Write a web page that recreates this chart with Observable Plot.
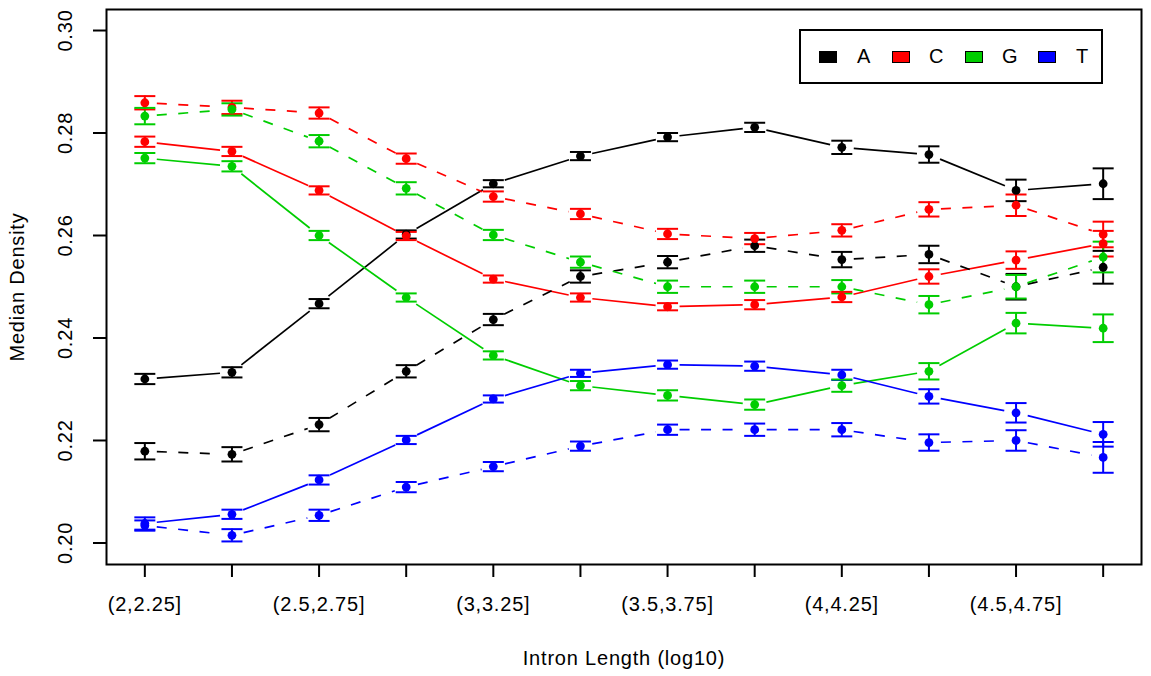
<!DOCTYPE html>
<html><head><meta charset="utf-8">
<script src="https://cdn.jsdelivr.net/npm/d3@7"></script>
<script src="https://cdn.jsdelivr.net/npm/@observablehq/plot@0.6"></script>
<style>
body{margin:0;background:#fff;font-family:"Liberation Sans",Arial,sans-serif;}
#wrap{position:relative;width:1151px;height:676px;}
#wrap svg text{letter-spacing:0.8px;}
.box{position:absolute;left:799px;top:29px;width:304px;height:55px;border:2px solid #000;box-sizing:border-box;background:#fff;}
.sw{position:absolute;top:51px;width:18px;height:12px;border:1px solid #000;box-sizing:border-box;}
.lt{position:absolute;top:46px;font-size:20px;line-height:20px;color:#000;letter-spacing:0.8px;}
</style></head><body><div id="wrap"></div>
<script>
// Categories (x bins)
const bins = ["(2,2.25]","(2.25,2.5]","(2.5,2.75]","(2.75,3]","(3,3.25]","(3.25,3.5]","(3.5,3.75]","(3.75,4]","(4,4.25]","(4.25,4.5]","(4.5,4.75]","(4.75,5]"];
const bases = ["A","C","G","T"];
const baseColors = ["#000000","#FF0000","#00CD00","#0000FF"];
const yTicks = [0.20,0.22,0.24,0.26,0.28,0.30];

// Series values (median density) and error half-widths; solid and dashed sets
const A_solid      = [0.2320,0.2333,0.2467,0.2602,0.2701,0.2755,0.2792,0.2811,0.2772,0.2758,0.2688,0.2701];
const A_solid_err  = [0.0010,0.0010,0.0009,0.0008,0.0007,0.0008,0.0008,0.0009,0.0013,0.0016,0.0021,0.0030];
const A_dashed     = [0.2179,0.2173,0.2231,0.2335,0.2436,0.2520,0.2548,0.2580,0.2553,0.2563,0.2500,0.2538];
const A_dashed_err = [0.0016,0.0014,0.0013,0.0012,0.0011,0.0012,0.0012,0.0012,0.0015,0.0017,0.0025,0.0032];
const C_solid      = [0.2783,0.2764,0.2688,0.2599,0.2515,0.2479,0.2461,0.2465,0.2480,0.2520,0.2552,0.2584];
const C_solid_err  = [0.0010,0.0009,0.0008,0.0008,0.0007,0.0008,0.0007,0.0009,0.0010,0.0014,0.0017,0.0025];
const C_dashed     = [0.2859,0.2850,0.2839,0.2750,0.2676,0.2642,0.2603,0.2594,0.2610,0.2651,0.2659,0.2602];
const C_dashed_err = [0.0013,0.0013,0.0011,0.0010,0.0010,0.0010,0.0010,0.0011,0.0012,0.0014,0.0021,0.0025];
const G_solid      = [0.2751,0.2735,0.2600,0.2479,0.2366,0.2307,0.2288,0.2270,0.2307,0.2335,0.2429,0.2419];
const G_solid_err  = [0.0010,0.0010,0.0009,0.0008,0.0008,0.0009,0.0010,0.0010,0.0012,0.0016,0.0020,0.0027];
const G_dashed     = [0.2833,0.2846,0.2784,0.2692,0.2601,0.2548,0.2500,0.2500,0.2500,0.2465,0.2500,0.2558];
const G_dashed_err = [0.0016,0.0012,0.0012,0.0012,0.0010,0.0011,0.0012,0.0012,0.0013,0.0017,0.0023,0.0030];
const T_solid      = [0.2038,0.2056,0.2123,0.2201,0.2281,0.2331,0.2348,0.2345,0.2328,0.2286,0.2254,0.2212];
const T_solid_err  = [0.0012,0.0009,0.0009,0.0008,0.0007,0.0007,0.0008,0.0009,0.0010,0.0014,0.0019,0.0024];
const T_dashed     = [0.2034,0.2015,0.2054,0.2109,0.2149,0.2189,0.2221,0.2221,0.2221,0.2196,0.2200,0.2167];
const T_dashed_err = [0.0010,0.0012,0.0011,0.0010,0.0009,0.0009,0.0010,0.0012,0.0013,0.0016,0.0020,0.0030];

const series = [
  {base:"A", style:"solid",  v:A_solid,  e:A_solid_err},
  {base:"A", style:"dashed", v:A_dashed, e:A_dashed_err},
  {base:"C", style:"solid",  v:C_solid,  e:C_solid_err},
  {base:"C", style:"dashed", v:C_dashed, e:C_dashed_err},
  {base:"G", style:"solid",  v:G_solid,  e:G_solid_err},
  {base:"G", style:"dashed", v:G_dashed, e:G_dashed_err},
  {base:"T", style:"solid",  v:T_solid,  e:T_solid_err},
  {base:"T", style:"dashed", v:T_dashed, e:T_dashed_err}
];
const rows = series.flatMap(s => s.v.map((val,i) => ({base:s.base, style:s.style, x:i+1, y:val, lo:val-s.e[i], hi:val+s.e[i]})));
const segs = series.flatMap(s => d3.pairs(s.v.map((val,i)=>[i+1,val])).map(([a,b]) => ({base:s.base, style:s.style, x1:a[0], y1:a[1], x2:b[0], y2:b[1]})));

const cap = {draw(ctx, size){ const w = Math.sqrt(size/Math.PI); ctx.moveTo(-w,0); ctx.lineTo(w,0); }};
const font = "Liberation Sans, Arial, sans-serif";

const plot = Plot.plot({
  width: 1151, height: 676,
  marginLeft: 106, marginRight: 10, marginTop: 9, marginBottom: 112,
  style: {fontFamily: font, fontSize: "20px", color: "#000", background: "#fff"},
  x: {type: "linear", domain: [0.56, 12.44]},
  y: {domain: [0.1958, 0.3041]},
  color: {domain: bases, range: baseColors},
  marks: [
    Plot.axisX({ticks: d3.range(1,13), tickSize: 13, tickPadding: 19, strokeWidth: 2, fontSize: 20,
      tickFormat: i => (i % 2 === 1 ? bins[i-1] : ""), label: null}),
    Plot.axisY({ticks: yTicks, tickSize: 13, strokeWidth: 2, tickFormat: () => "", label: null}),
    Plot.text(yTicks, {y: d => d, text: d => d.toFixed(2), frameAnchor: "left", textAnchor: "middle", rotate: -90, dx: -41, fontSize: 20}),
    Plot.text(["Median Density"], {text: d => d, frameAnchor: "left", textAnchor: "middle", rotate: -90, dx: -89, fontSize: 20}),
    Plot.text(["Intron Length (log10)"], {text: d => d, frameAnchor: "bottom", textAnchor: "middle", lineAnchor: "middle", dy: 94, fontSize: 20}),
    Plot.frame({stroke: "#000", strokeWidth: 2}),
    Plot.arrow(segs.filter(d => d.style === "solid"), {x1:"x1", y1:"y1", x2:"x2", y2:"y2", stroke:"base", inset: 12, headLength: 0, strokeWidth: 1.7, strokeLinecap: "butt"}),
    Plot.arrow(segs.filter(d => d.style === "dashed"), {x1:"x1", y1:"y1", x2:"x2", y2:"y2", stroke:"base", inset: 12, headLength: 0, strokeWidth: 1.7, strokeLinecap: "butt", strokeDasharray: "10,11.5"}),
    Plot.ruleX(rows, {x:"x", y1:"lo", y2:"hi", stroke:"base", strokeWidth: 2}),
    Plot.dot(rows, {x:"x", y:"lo", symbol: cap, r: 10.5, stroke:"base", strokeWidth: 2, fill: "none"}),
    Plot.dot(rows, {x:"x", y:"hi", symbol: cap, r: 10.5, stroke:"base", strokeWidth: 2, fill: "none"}),
    Plot.dot(rows, {x:"x", y:"y", fill:"base", r: 4.4})
  ]
});
const wrap = document.getElementById("wrap");
wrap.appendChild(plot);

// Legend
const box = document.createElement("div"); box.className = "box"; wrap.appendChild(box);
const swLeft = [819, 892, 965, 1038];
const txLeft = [857, 929, 1002, 1076];
bases.forEach((b, i) => {
  const s = document.createElement("div"); s.className = "sw";
  s.style.left = swLeft[i] + "px"; s.style.background = baseColors[i];
  wrap.appendChild(s);
  const t = document.createElement("div"); t.className = "lt";
  t.style.left = txLeft[i] + "px"; t.textContent = b;
  wrap.appendChild(t);
});
</script>
</body></html>
